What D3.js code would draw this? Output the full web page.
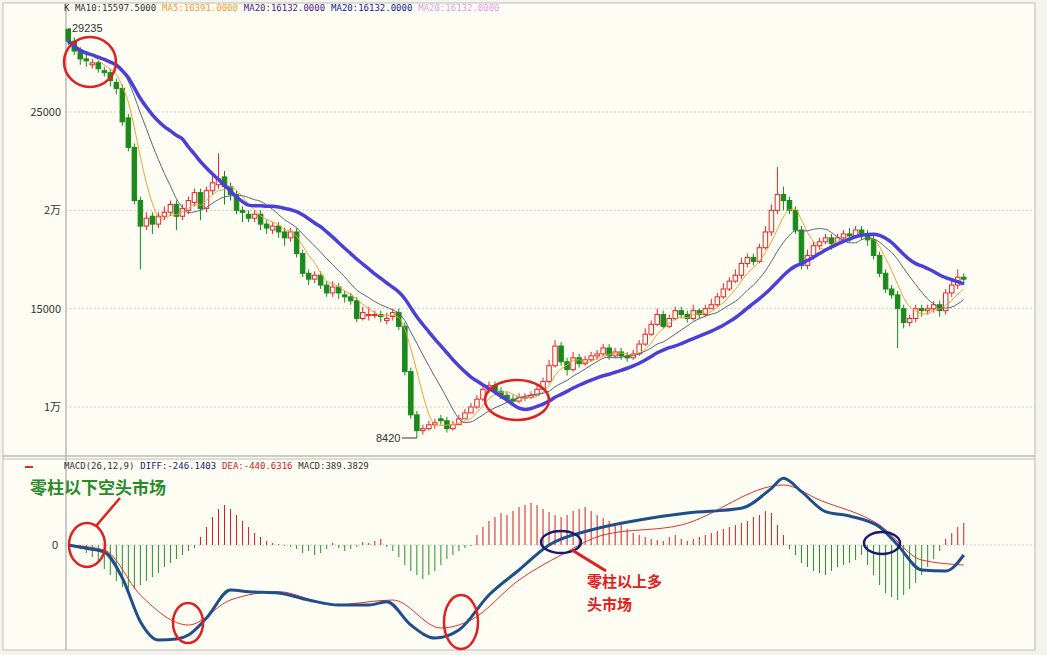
<!DOCTYPE html>
<html><head><meta charset="utf-8">
<script src="https://cdn.jsdelivr.net/npm/d3@7/dist/d3.min.js"></script>
<style>body{margin:0;background:#fff}svg{display:block}</style>
</head><body><svg id="c" width="1047" height="655"></svg>
<script>
// prices in hundreds
const closes=[286,281,277,276,275,272,270,266,262,245,232,205,192,196,193,197,199,203,197,201,205,209,201,210,214,216,212,208,200,199,196,198,193,191,192,189,186,189,178,168,165,167,162,158,161,158,156,154,145,148,147,147,146,145,148,141,118,96,88,89,91,92,93,89,91,94,97,100,104,109,111,108,106,104,103,105,105,106,109,113,121,131,123,119,125,122,124,126,127,130,126,128,126,125,127,132,137,142,147,141,145,149,147,145,149,147,150,152,156,160,164,167,173,176,174,181,189,200,208,205,200,190,172,177,182,184,186,183,186,188,187,190,188,185,177,168,160,157,150,143,145,150,149,150,152,149,158,162,166,165];
const opens=[292,286,281,277,274,275,271,270,265,262,247,232,205,192,197,193,197,199,203,197,200,204,209,201,210,213,217,212,208,200,198,196,198,193,190,192,189,186,189,178,168,165,167,162,158,161,157,156,154,145,147,147,147,144,146,148,141,118,96,88,89,91,94,93,89,91,94,97,100,104,109,111,108,106,104,103,105,105,106,109,113,121,131,123,119,125,122,124,126,127,130,126,128,126,125,127,132,137,142,147,141,145,149,147,145,149,147,150,152,156,160,164,167,173,176,174,181,189,200,208,205,200,190,172,177,182,184,186,183,186,188,187,190,188,185,177,168,160,157,150,143,145,150,149,150,152,149,158,162,166];
const highs=[292.35,288,283,279,277,276,273,272,267,264,249,234,207,199,199,199,202,205,205,203,207,211,211,212,219,229,220,214,210,202,200,200,200,195,194,194,191,191,191,180,170,169,169,164,164,163,159,158,156,151,151,149,149,148,150,150,143,120,98,91,93,94,96,95,93,96,99,102,106,112,113,113,110,108,106,107,107,108,111,115,124,134,133,125,128,127,126,128,129,132,132,130,130,128,129,134,140,144,150,149,147,151,151,149,152,150,152,155,158,163,166,170,176,178,178,183,192,203,222,212,207,202,192,180,184,186,188,188,188,190,191,192,192,190,187,179,170,162,159,152,147,152,152,152,154,154,160,165,170,168];
const lows=[284,279,274,273,272,270,268,263,259,243,230,203,170,190,188,191,195,197,190,195,198,202,195,199,208,211,203,205,198,194,194,194,190,188,188,186,182,184,176,166,162,163,160,156,156,155,153,152,143,144,144,145,143,142,144,139,116,94,84.2,86,88,89,91,87,88,91,94,97,99,103,107,106,104,102,101,102,103,104,106,110,112,120,121,116,118,120,121,123,124,126,124,125,124,123,124,126,131,136,141,140,140,144,145,143,144,145,146,150,151,155,159,163,165,171,172,173,180,187,198,200,198,188,170,170,175,180,183,180,183,185,184,186,185,182,175,166,158,155,130,140,141,143,146,147,148,146,147,156,160,162];
// MACD (sampled) and histogram
const diffIdx=[0,3,6,9,12,15,18,20,23,27,30,35,40,45,50,53,57,61,65,70,75,80,87,95,103,112,117,119,122,126,130,135,138,142,146,149];
const diffVal=[0,-100,-210,-990,-2300,-2850,-2820,-2700,-2190,-1350,-1400,-1440,-1650,-1800,-1800,-1700,-2400,-2790,-2550,-1500,-750,0,450,750,960,1100,1700,2000,1600,1000,870,540,0,-750,-780,-300];
const deaIdx=[0,6,12,20,27,35,44,54,62,67,75,82,89,102,119,125,135,142,149];
const deaVal=[0,-150,-1500,-2400,-1650,-1400,-1800,-1650,-2490,-2250,-1050,-300,300,600,1800,1350,600,-450,-600];
const histPx=[0,-2,-4,-8,-12,-18,-24,-30,-36,-42,-46,-44,-40,-36,-32,-28,-22,-18,-14,-10,-6,-3,8,18,28,36,40,36,30,24,18,12,8,4,2,1,-1,-2,-4,-8,-6,-10,-8,-4,2,-3,-6,-4,-2,3,2,4,6,-2,-6,-12,-20,-26,-30,-34,-30,-26,-20,-14,-10,-6,-3,-1,10,18,24,28,32,30,34,38,40,42,40,36,33,30,28,30,34,36,38,34,30,27,24,22,20,16,12,10,8,6,5,4,8,10,6,4,6,8,10,12,14,16,18,20,22,24,28,30,34,32,20,10,-4,-10,-18,-22,-26,-28,-30,-26,-22,-20,-18,-15,-10,-20,-30,-40,-48,-52,-55,-50,-44,-38,-30,-22,-14,-6,6,12,18,22];
const yTicks=[25000,20000,15000,10000];
const yTickLabels=["25000","2万","15000","1万"];

const svg=d3.select("#c");
const L=66,R=1035,T1=22,B1=455,T2=458,B2=650;
svg.append("rect").attr("x",0).attr("y",0).attr("width",1047).attr("height",655).attr("fill","#f4f4ee");
svg.append("rect").attr("x",3).attr("y",3).attr("width",R-3).attr("height",B2-3).attr("fill","#fdfdf4").attr("stroke","#bbb");
svg.append("line").attr("x1",L).attr("x2",L).attr("y1",3).attr("y2",B2).attr("stroke","#999");
svg.append("line").attr("x1",3).attr("x2",R).attr("y1",B1+1).attr("y2",B1+1).attr("stroke","#999");
svg.append("line").attr("x1",3).attr("x2",R).attr("y1",T2+1).attr("y2",T2+1).attr("stroke","#bbb");

const n=closes.length;
const x=d3.scaleBand().domain(d3.range(n)).range([66,966]).paddingInner(0.25);
const cx=i=>x(i)+x.bandwidth()/2;
const y=d3.scaleLinear().domain([10000,25000]).range([407,112]);
const P=v=>y(v*100);

const g=svg.append("g");
g.selectAll(".gl").data(yTicks).join("line").attr("x1",L).attr("x2",R).attr("y1",d=>y(d)).attr("y2",d=>y(d))
 .attr("stroke","#ccc").attr("stroke-dasharray","2,2");
g.selectAll(".tl").data(yTicks).join("text").attr("x",L-5).attr("y",d=>y(d)+4).attr("text-anchor","end")
 .attr("font-family","SimSun,'Noto Sans CJK SC',sans-serif").attr("font-size",11).attr("fill","#333").text((d,i)=>yTickLabels[i]);

const up="#e8262a",dn="#1a8a1a";
const cg=g.append("g");
d3.range(n).forEach(i=>{
  const o=opens[i],c=closes[i],isUp=c>=o,col=isUp?up:dn;
  cg.append("line").attr("x1",cx(i)).attr("x2",cx(i)).attr("y1",P(highs[i])).attr("y2",P(lows[i])).attr("stroke",col);
  const top=P(Math.max(o,c)),h=Math.max(1,P(Math.min(o,c))-top);
  cg.append("rect").attr("x",x(i)).attr("y",top).attr("width",x.bandwidth()).attr("height",h)
   .attr("fill",isUp?"#fdfdf4":dn).attr("stroke",col).attr("stroke-width",1);
});
function ma(k){return closes.map((_,i)=>{const s=closes.slice(Math.max(0,i-k+1),i+1);return d3.mean(s);});}
const line=d3.line().x((d,i)=>cx(i)).y(d=>P(d)).curve(d3.curveMonotoneX);
g.append("path").attr("d",line(ma(5))).attr("fill","none").attr("stroke","#f0a030").attr("stroke-width",1);
g.append("path").attr("d",line(ma(10))).attr("fill","none").attr("stroke","#556677").attr("stroke-width",1);
g.append("path").attr("d",line(ma(20))).attr("fill","none").attr("stroke","#4a3fd8").attr("stroke-width",3.5);

const txt=(xx,yy,s,col,fs,w,ff)=>svg.append("text").attr("x",xx).attr("y",yy).attr("fill",col).attr("font-size",fs||10)
  .attr("font-weight",w||"normal").attr("font-family",ff||"'DejaVu Sans Mono',monospace").text(s);
const hdr=[["K ","#333"],["MA10:15597.5000 ","#333"],["MA5:16391.0000 ","#f0a030"],["MA20:16132.0000 ","#4a2090"],["MA20:16132.0000 ","#1a1aa0"],["MA20:16132.0000","#e0a0e8"]];
let hx=64;hdr.forEach(([s,c])=>{txt(hx,11,s,c,9);hx+=s.length*5.45;});
txt(72,32,"29235","#333",11,"normal","Liberation Sans,sans-serif");
svg.append("line").attr("x1",cx(0)).attr("x2",71).attr("y1",29).attr("y2",29).attr("stroke","#333");
txt(376,442,"8420","#333",11,"normal","Liberation Sans,sans-serif");
svg.append("line").attr("x1",402).attr("x2",cx(58)).attr("y1",438).attr("y2",438).attr("stroke","#333");

const ym=d3.scaleLinear().domain([0,-3000]).range([545,645]);
svg.append("line").attr("x1",L).attr("x2",R).attr("y1",545).attr("y2",545).attr("stroke","#ccc").attr("stroke-dasharray","2,2");
txt(52,549,"0","#333",11,"normal","Liberation Sans,sans-serif");
svg.append("line").attr("x1",25).attr("x2",33).attr("y1",467).attr("y2",467).attr("stroke",up).attr("stroke-width",2);
svg.append("g").selectAll("line").data(histPx).join("line").attr("x1",(d,i)=>cx(i)).attr("x2",(d,i)=>cx(i))
  .attr("y1",ym(0)).attr("y2",d=>ym(d*30)).attr("stroke",d=>d>=0?"#d02020":"#2a902a").attr("stroke-width",1);
const ml=d3.line().x(d=>cx(d[0])).y(d=>ym(d[1])).curve(d3.curveMonotoneX);
svg.append("path").attr("d",ml(deaIdx.map((d,i)=>[d,deaVal[i]]))).attr("fill","none").attr("stroke","#e03030").attr("stroke-width",1);
svg.append("path").attr("d",ml(diffIdx.map((d,i)=>[d,diffVal[i]]))).attr("fill","none").attr("stroke","#1f4f8a").attr("stroke-width",3);
const mh=[["MACD(26,12,9) ","#333"],["DIFF:-246.1403 ","#1a1a70"],["DEA:-440.6316 ","#d02020"],["MACD:389.3829","#333"]];
hx=64;mh.forEach(([s,c])=>{txt(hx,469,s,c,9);hx+=s.length*5.45;});

const ell=(ex,ey,rx,ry,c,w)=>svg.append("ellipse").attr("cx",ex).attr("cy",ey).attr("rx",rx).attr("ry",ry).attr("fill","none").attr("stroke",c).attr("stroke-width",w||2.5);
ell(90,62,26,25,"#e02020");ell(517,400,32,20,"#e02020");
ell(87,545,18,22,"#e02020");ell(188,623,15,20,"#e02020");ell(461,622,17,27,"#e02020");
ell(561,542,20,11,"#1a1a70");ell(882,543,18,11,"#1a1a70");
svg.append("line").attr("x1",120).attr("x2",96).attr("y1",498).attr("y2",526).attr("stroke","#e02020").attr("stroke-width",2.5);
svg.append("line").attr("x1",572).attr("x2",606).attr("y1",550).attr("y2",571).attr("stroke","#e02020").attr("stroke-width",3);
txt(30,494,"零柱以下空头市场","#2a8a2a",17,"bold","'Noto Sans CJK SC',sans-serif");
txt(587,587,"零柱以上多","#e02020",15,"bold","'Noto Sans CJK SC',sans-serif");
txt(587,610,"头市场","#e02020",15,"bold","'Noto Sans CJK SC',sans-serif");
</script></body></html>
